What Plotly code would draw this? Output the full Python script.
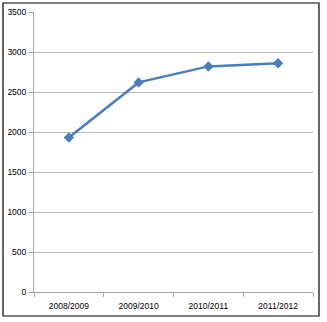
import plotly.graph_objects as go

categories = ["2008/2009", "2009/2010", "2010/2011", "2011/2012"]
values = [1930, 2620, 2820, 2860]
y_ticks = [0, 500, 1000, 1500, 2000, 2500, 3000, 3500]

W, H = 327, 322
L, R, T, B = 34, 14, 12, 30
pw, ph = W - L - R, H - T - B

fig = go.Figure()
fig.add_trace(go.Scatter(
    x=categories, y=values, mode="lines+markers",
    line=dict(color="#4A7EBB", width=2.5),
    marker=dict(symbol="diamond", size=8, color="#4A7EBB"),
    showlegend=False,
))

fnt = "Liberation Sans, sans-serif"
fig.update_layout(
    width=W, height=H,
    margin=dict(l=L, r=R, t=T, b=B),
    paper_bgcolor="white", plot_bgcolor="white",
    font=dict(family=fnt, size=9, color="#000000"),
    xaxis=dict(
        type="category", range=[-0.5, len(categories) - 0.5],
        tickson="boundaries", ticks="outside", ticklen=4,
        tickcolor="#a6a6a6", showline=True, linecolor="#a6a6a6", linewidth=1,
        showgrid=False, tickfont=dict(family=fnt, size=8.5),
        ticklabelstandoff=6, automargin=False,
    ),
    yaxis=dict(
        range=[0, 3500], tickvals=y_ticks, ticks="outside", ticklen=5,
        tickcolor="#a6a6a6", showline=True, linecolor="#a6a6a6", linewidth=1,
        showgrid=True, gridcolor="#b8b8b8", gridwidth=1, zeroline=False,
        tickfont=dict(family=fnt, size=8.5), automargin=False,
    ),
)

# outer chart border
fig.add_shape(
    type="rect", xref="paper", yref="paper",
    x0=(3 - L) / pw, x1=(319 - L) / pw,
    y0=(ph - (316 - T)) / ph, y1=(ph - (3 - T)) / ph,
    line=dict(color="#000000", width=1.2),
)

fig.write_html("out.html")
